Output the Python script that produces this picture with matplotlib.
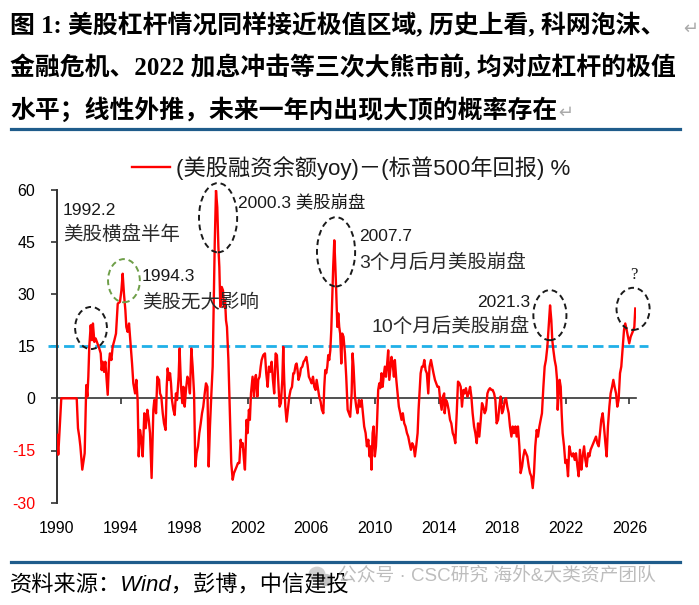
import matplotlib
matplotlib.use("Agg")
import matplotlib.pyplot as plt
from matplotlib.patches import Ellipse, Circle
from matplotlib.lines import Line2D

# ---------------- data ----------------
years = [
    1990.00, 1990.08, 1990.27, 1991.24, 1991.32, 1991.40, 1991.47, 1991.59, 1991.74, 1991.80,
    1991.84, 1991.91, 1991.97, 1992.03, 1992.12, 1992.20, 1992.26, 1992.35, 1992.43, 1992.54,
    1992.66, 1992.75, 1992.81, 1992.87, 1992.96, 1993.04, 1993.12, 1993.19, 1993.27, 1993.33,
    1993.42, 1993.50, 1993.61, 1993.71, 1993.82, 1993.96, 1994.05, 1994.13, 1994.21, 1994.30,
    1994.36, 1994.44, 1994.53, 1994.61, 1994.72, 1994.80, 1994.91, 1994.99, 1995.07, 1995.14,
    1995.22, 1995.30, 1995.39, 1995.49, 1995.58, 1995.68, 1995.77, 1995.85, 1995.95, 1996.06,
    1996.12, 1996.23, 1996.31, 1996.42, 1996.48, 1996.56, 1996.65, 1996.73, 1996.83, 1996.90,
    1996.96, 1997.04, 1997.11, 1997.17, 1997.23, 1997.32, 1997.40, 1997.48, 1997.55, 1997.65,
    1997.71, 1997.80, 1997.88, 1997.95, 1998.03, 1998.11, 1998.20, 1998.28, 1998.36, 1998.45,
    1998.53, 1998.62, 1998.70, 1998.78, 1998.87, 1998.95, 1999.04, 1999.12, 1999.20, 1999.29,
    1999.37, 1999.46, 1999.54, 1999.62, 1999.71, 1999.79, 1999.85, 1999.92, 2000.00, 2000.08,
    2000.15, 2000.21, 2000.27, 2000.36, 2000.44, 2000.50, 2000.57, 2000.63, 2000.69, 2000.78,
    2000.84, 2000.90, 2000.96, 2001.05, 2001.13, 2001.22, 2001.30, 2001.38, 2001.47, 2001.55,
    2001.61, 2001.68, 2001.76, 2001.82, 2001.92, 2001.99, 2002.07, 2002.13, 2002.20, 2002.24,
    2002.30, 2002.39, 2002.45, 2002.51, 2002.60, 2002.66, 2002.74, 2002.81, 2002.87, 2002.97,
    2003.08, 2003.16, 2003.25, 2003.33, 2003.41, 2003.50, 2003.58, 2003.66, 2003.75, 2003.83,
    2003.92, 2004.00, 2004.08, 2004.17, 2004.23, 2004.29, 2004.36, 2004.44, 2004.52, 2004.61,
    2004.69, 2004.78, 2004.86, 2004.92, 2005.01, 2005.07, 2005.13, 2005.19, 2005.28, 2005.34,
    2005.43, 2005.51, 2005.59, 2005.68, 2005.76, 2005.84, 2005.93, 2006.01, 2006.10, 2006.18,
    2006.26, 2006.33, 2006.41, 2006.49, 2006.58, 2006.66, 2006.75, 2006.81, 2006.87, 2006.93,
    2007.00, 2007.06, 2007.12, 2007.19, 2007.25, 2007.31, 2007.37, 2007.44, 2007.50, 2007.56,
    2007.63, 2007.69, 2007.75, 2007.81, 2007.88, 2007.94, 2008.02, 2008.11, 2008.19, 2008.28,
    2008.36, 2008.44, 2008.53, 2008.59, 2008.65, 2008.74, 2008.82, 2008.90, 2008.99, 2009.07,
    2009.16, 2009.24, 2009.32, 2009.41, 2009.49, 2009.58, 2009.66, 2009.72, 2009.78, 2009.85,
    2009.91, 2009.99, 2010.06, 2010.12, 2010.20, 2010.27, 2010.33, 2010.41, 2010.48, 2010.54,
    2010.62, 2010.69, 2010.75, 2010.83, 2010.90, 2010.96, 2011.04, 2011.11, 2011.19, 2011.25,
    2011.34, 2011.42, 2011.50, 2011.59, 2011.67, 2011.75, 2011.84, 2011.92, 2012.01, 2012.09,
    2012.17, 2012.26, 2012.34, 2012.43, 2012.51, 2012.59, 2012.68, 2012.74, 2012.80, 2012.87,
    2012.95, 2013.03, 2013.10, 2013.18, 2013.26, 2013.35, 2013.43, 2013.52, 2013.60, 2013.68,
    2013.77, 2013.85, 2013.93, 2014.02, 2014.10, 2014.19, 2014.27, 2014.35, 2014.38, 2014.47,
    2014.55, 2014.63, 2014.72, 2014.80, 2014.89, 2014.97, 2015.05, 2015.14, 2015.22, 2015.31,
    2015.39, 2015.47, 2015.56, 2015.64, 2015.72, 2015.81, 2015.89, 2015.98, 2016.06, 2016.14,
    2016.23, 2016.31, 2016.40, 2016.48, 2016.56, 2016.65, 2016.73, 2016.81, 2016.90, 2016.98,
    2017.07, 2017.15, 2017.23, 2017.32, 2017.40, 2017.49, 2017.57, 2017.65, 2017.74, 2017.82,
    2017.90, 2017.99, 2018.07, 2018.16, 2018.24, 2018.32, 2018.41, 2018.49, 2018.58, 2018.66,
    2018.74, 2018.83, 2018.91, 2018.99, 2019.08, 2019.16, 2019.25, 2019.33, 2019.41, 2019.50,
    2019.58, 2019.67, 2019.75, 2019.83, 2019.92, 2020.00, 2020.08, 2020.17, 2020.25, 2020.34,
    2020.42, 2020.50, 2020.59, 2020.67, 2020.75, 2020.84, 2020.92, 2021.01, 2021.09, 2021.15,
    2021.22, 2021.30, 2021.38, 2021.45, 2021.49, 2021.55, 2021.61, 2021.68, 2021.74, 2021.80,
    2021.89, 2021.97, 2022.05, 2022.14, 2022.22, 2022.31, 2022.39, 2022.47, 2022.56, 2022.64,
    2022.73, 2022.81, 2022.89, 2022.98, 2023.06, 2023.15, 2023.23, 2023.31, 2023.40, 2023.48,
    2023.56, 2023.65, 2023.73, 2023.82, 2023.90, 2023.98, 2024.07, 2024.15, 2024.23, 2024.32,
    2024.40, 2024.49, 2024.57, 2024.65, 2024.74, 2024.82, 2024.91, 2024.99, 2025.07, 2025.16,
    2025.24, 2025.32, 2025.41, 2025.49, 2025.58, 2025.66, 2025.74, 2025.83, 2025.91, 2025.99,
    2026.08, 2026.16, 2026.25, 2026.31, 2026.37,
]
values = [
    -10.5, -16.2, 0.0, 0.0, -8.6, -11.0, -13.8, -20.5, -15.8, -4.3,
    3.8, 0.5, 6.2, 14.8, 21.0, 16.7, 21.5, 16.2, 17.2, 15.8,
    14.3, 12.9, 8.1, 10.5, 7.6, 10.5, 5.3, 1.0, 10.5, 12.9,
    11.0, 14.8, 16.7, 18.6, 27.2, 27.7, 31.0, 35.8, 30.1, 25.3,
    20.5, 19.1, 21.5, 16.7, 10.0, 4.3, 1.4, 5.3, -0.5, -16.7,
    -9.1, -11.5, -16.7, -4.3, -8.6, -3.3, -6.2, -10.0, -22.9, -3.3,
    -0.5, -4.3, 6.2, 5.3, 1.4, 0.5, -4.3, -7.2, -9.1, 3.3,
    8.6, 5.3, 7.2, 4.3, -0.5, -3.3, -4.8, 1.4, -0.5, 6.2,
    14.3, 3.3, -1.4, 3.3, -2.4, 2.4, 6.2, 5.3, 1.4, 14.3,
    9.1, 1.4, -19.6, -15.8, -13.8, -10.0, -7.2, -4.3, -2.4, 1.4,
    4.3, 3.3, -19.6, -8.1, 1.4, 9.1, 26.3, 44.4, 59.7, 54.9,
    43.5, 37.7, 26.3, 32.0, 31.0, 26.3, 28.2, 22.4, 20.5, 11.0,
    1.4, -8.1, -18.6, -23.4, -21.5, -20.5, -19.6, -18.6, -18.6, -11.9,
    -13.8, -12.9, -17.7, -20.5, -6.2, -10.0, -3.3, -6.2, 1.4, 3.3,
    6.2, 0.5, 5.3, 6.7, 0.5, 5.3, 6.2, 9.1, 11.0, 12.4,
    12.9, 7.2, 3.3, 9.1, 7.6, 10.5, 5.3, 1.4, 12.9, 12.4,
    4.3, -2.4, -1.4, 5.3, 14.8, 5.3, -2.4, -6.7, -3.3, 0.5,
    2.4, 3.3, 7.2, 7.2, 9.6, 10.0, 8.1, 5.3, 6.7, 8.6,
    9.1, 10.5, 11.0, 11.9, 9.6, 6.2, 5.3, 4.3, 6.2, 3.3,
    2.4, 5.3, 2.9, 0.5, -1.0, -3.3, -4.3, 3.3, 8.1, 7.2,
    9.1, 12.4, 11.0, 13.8, 19.6, 29.1, 37.7, 45.4, 38.7, 31.0,
    20.5, 24.4, 20.5, 18.6, 10.0, 18.6, 17.7, 12.9, 6.2, -3.3,
    -4.3, -5.3, 1.4, 12.9, 9.1, 0.5, -2.4, -4.3, -0.5, -2.4,
    -0.5, -4.3, -8.1, -10.0, -13.8, -11.9, -16.7, -13.8, -20.5, -10.0,
    -8.1, -16.7, -13.8, -8.1, 2.4, 4.3, 2.9, 7.2, 3.3, 6.2,
    9.1, 6.2, 9.1, 13.8, 5.3, 8.1, 11.9, 10.0, 6.2, 11.0,
    5.3, 1.4, -2.4, -4.3, -6.2, -4.3, -7.2, -8.1, -10.0, -11.0,
    -12.9, -14.8, -12.9, -13.8, -16.7, -13.8, -10.0, -3.3, 1.4, 7.2,
    9.1, 9.1, 11.0, 8.1, 7.2, 1.4, 9.1, 11.0, 9.1, 7.2,
    5.3, 4.3, 3.3, 3.3, -0.5, -3.3, 0.5, 1.4, -4.3, -0.5,
    -1.4, -3.3, -6.2, -7.2, -10.0, -11.0, -12.9, -4.3, 4.8, 4.3,
    3.3, -2.4, 2.4, 1.4, 2.9, 0.5, 1.4, 3.3, 0.5, -4.3,
    -8.1, -10.0, -12.9, -7.2, -11.0, -6.2, -1.4, -2.4, -4.3, -3.3,
    1.4, 2.4, 2.9, 2.4, 2.4, 1.4, -0.5, -7.2, -6.2, -2.4,
    0.5, -4.3, -3.3, -0.5, 0.0, -2.4, -4.3, -8.1, -11.0, -8.1,
    -10.0, -8.1, -11.0, -8.1, -13.8, -21.5, -19.6, -16.7, -14.8, -15.8,
    -16.7, -19.6, -21.5, -22.4, -25.8, -21.5, -13.8, -9.1, -11.0, -8.1,
    -6.2, -4.3, 3.3, 9.1, 11.0, 14.8, 20.5, 26.7, 22.4, 16.7,
    13.8, 11.0, 9.1, 5.3, -3.3, 1.4, 5.3, 3.3, -4.3, -10.0,
    -13.8, -18.6, -17.7, -22.4, -13.8, -15.8, -16.7, -15.8, -17.7, -15.8,
    -19.6, -22.4, -14.8, -20.5, -16.7, -13.8, -17.7, -19.6, -15.8, -16.7,
    -14.8, -13.8, -12.9, -11.9, -11.0, -12.9, -13.8, -10.0, -6.2, -4.3,
    -8.1, -12.9, -16.7, -8.1, -2.4, 1.4, 3.3, 5.3, 3.3, 1.4,
    -2.4, -0.5, 7.2, 9.1, 14.8, 19.6, 21.5, 19.6, 17.7, 15.8,
    17.7, 18.6, 19.6, 20.5, 25.8,
]
xticks = [1990, 1994, 1998, 2002, 2006, 2010, 2014, 2018, 2022, 2026]
yticks = [-30, -15, 0, 15, 30, 45, 60]
threshold = 15

title_lines = [
    "图 1: 美股杠杆情况同样接近极值区域, 历史上看, 科网泡沫、",
    "金融危机、2022 加息冲击等三次大熊市前, 均对应杠杆的极值",
    "水平；线性外推，未来一年内出现大顶的概率存在",
]
legend_label = "(美股融资余额yoy)－(标普500年回报) %"
source_text = "资料来源：Wind，彭博，中信建投"
watermark_text = "公众号 · CSC研究 海外&大类资产团队"

# ---------------- styling ----------------
W, H = 699, 605
SANS = ["Liberation Sans", "Noto Sans CJK SC", "DejaVu Sans"]
SERIF = ["Liberation Serif", "Noto Sans CJK SC", "DejaVu Sans"]
RED = "#FF0000"
BLUE_DASH = "#20B0E8"
RULE = "#1F5C8B"
AX = "#333333"
TXT = "#1a1a1a"

fig = plt.figure(figsize=(W / 100, H / 100), dpi=100)
fig.patch.set_facecolor("white")

def fx(px):
    return px / W

def fy(py):
    return 1 - py / H

x0, x1 = 1990.0, 2026.4
px_per_year = 15.9
left_px, top_px, bottom_px = 57, 189.5, 502.7
right_px = left_px + (x1 - x0) * px_per_year
ax = fig.add_axes([fx(left_px), fy(bottom_px), fx(right_px) - fx(left_px), fy(top_px) - fy(bottom_px)])

ax.plot(years, values, color=RED, lw=1.7, solid_joinstyle="round", zorder=3,
        label=legend_label)
ax.axhline(threshold, xmin=-0.0155, xmax=1.021, color=BLUE_DASH, lw=2.0,
           dashes=(3.8, 1.8), clip_on=False, zorder=2)

ax.set_xlim(x0, x1)
ax.set_ylim(yticks[0], yticks[-1])
ax.set_yticks(yticks)
ax.set_xticks(xticks)
ax.set_xticklabels([str(t) for t in xticks])
ax.set_yticklabels([str(t) for t in yticks])

for s in ["top", "right"]:
    ax.spines[s].set_visible(False)
ax.spines["left"].set_color(AX)
ax.spines["left"].set_linewidth(1.4)
ax.spines["bottom"].set_position(("data", 0))
ax.spines["bottom"].set_color(AX)
ax.spines["bottom"].set_linewidth(1.2)
ax.tick_params(axis="y", direction="out", length=4, width=1.2, color=AX, pad=11.5,
               labelsize=11.5)
ax.tick_params(axis="x", direction="out", length=4, width=1.2, color=AX, pad=84,
               labelsize=11.5)
for lbl, v in zip(ax.get_yticklabels(), yticks):
    lbl.set_color(RED if v < 0 else "black")
    lbl.set_family(SANS)
for lbl in ax.get_xticklabels():
    lbl.set_family(SANS)
    lbl.set_color("black")
ax.patch.set_alpha(0)

# ---------------- ellipses & annotations ----------------
ell_style = dict(fill=False, lw=1.4, ls=(0, (3, 2)), clip_on=False, zorder=4)
ax.add_patch(Ellipse((1992.14, 20.2), 2.0, 12.1, ec=TXT, **ell_style))
ax.add_patch(Ellipse((1994.21, 33.8), 2.0, 12.4, ec="#6E9E48", **ell_style))
ax.add_patch(Ellipse((2000.13, 51.9), 2.4, 19.9, ec=TXT, **ell_style))
ax.add_patch(Ellipse((2007.55, 42.1), 2.4, 19.9, ec=TXT, **ell_style))
ax.add_patch(Ellipse((2021.0, 23.9), 2.08, 14.4, ec=TXT, **ell_style))
ax.add_patch(Ellipse((2026.23, 25.7), 2.08, 12.1, ec=TXT, **ell_style))

num_kw = dict(fontsize=12.5, color=TXT, family=SANS, va="center", clip_on=False)
cjk_kw = dict(fontsize=14, color="#2a2a2a", family=SANS, va="center", clip_on=False)
ax.text(1990.37, 53.9, "1992.2", ha="left", **num_kw)
ax.text(1990.37, 47.0, "美股横盘半年", ha="left", **cjk_kw)
ax.text(1995.35, 34.9, "1994.3", ha="left", **num_kw)
ax.text(1995.35, 27.4, "美股无大影响", ha="left", **cjk_kw)
ax.text(2001.38, 56.5, "2000.3 美股崩盘", ha="left", **num_kw)
ax.text(2008.99, 46.4, "2007.7", ha="left", **num_kw)
ax.text(2008.99, 38.9, "3个月后月美股崩盘", ha="left", **cjk_kw)
ax.text(2019.75, 27.4, "2021.3", ha="right", **num_kw)
ax.text(2019.75, 20.5, "10个月后美股崩盘", ha="right", **cjk_kw)
ax.text(2026.29, 35.5, "?", ha="center", fontsize=12, color=TXT,
        family=["Liberation Serif", "DejaVu Serif"], va="center", clip_on=False)

# ---------------- legend ----------------
leg = ax.legend(loc="center", bbox_to_anchor=(fx(351), fy(168)), bbox_transform=fig.transFigure,
                frameon=False, handlelength=1.7, handletextpad=0.25, borderpad=0,
                prop={"family": SANS, "size": 16})
for t in leg.get_texts():
    t.set_color(TXT)

# ---------------- title, rules, footer ----------------
title_y = [26, 68, 110]
title_objs = []
for line, py in zip(title_lines, title_y):
    title_objs.append(fig.text(fx(10), fy(py), line, fontsize=17.9, fontweight="bold",
                               family=SERIF, va="center", ha="left", color="black"))

fig.add_artist(Line2D([fx(11), fx(680)], [fy(129), fy(129)], color=RULE, lw=2.3))
fig.add_artist(Line2D([fx(11), fx(680)], [fy(562), fy(562)], color=RULE, lw=2.3))

fig.text(fx(10), fy(586), source_text, fontsize=16, style="italic", family=SANS,
         va="center", ha="left", color="black")

fig.add_artist(Circle((fx(317), fy(574)), 0.011, transform=fig.transFigure,
                      color="#D0D0D0", zorder=1))
fig.add_artist(Circle((fx(326), fy(580)), 0.009, transform=fig.transFigure,
                      color="#C4C4C4", zorder=1))
fig.text(fx(338), fy(576), watermark_text, fontsize=13.5, family=SANS, color="#BDBDBD",
         va="center", ha="left")

# return marks: line 1 mark sits at the page edge, line 3 mark follows the text
fig.text(fx(683), fy(title_y[0]) - 0.004, "↵", fontsize=13, family=["DejaVu Sans"],
         color="#AAAAAA", va="center", ha="left")
fig.canvas.draw()
renderer = fig.canvas.get_renderer()
bb = title_objs[2].get_window_extent(renderer)
fig.text(bb.x1 / fig.dpi / fig.get_figwidth() + 0.002, fy(title_y[2]) - 0.004, "↵",
         fontsize=13, family=["DejaVu Sans"], color="#AAAAAA", va="center", ha="left")

fig.savefig("out.png", dpi=100)
